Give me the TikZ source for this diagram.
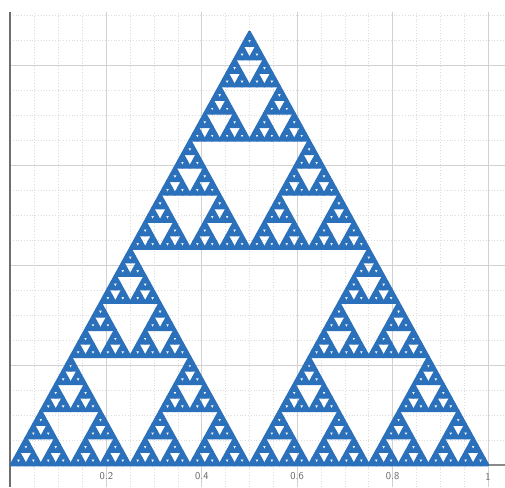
\documentclass[tikz,border=0pt]{standalone}
\definecolor{dblue}{HTML}{2B70BA}
\definecolor{majgrid}{HTML}{D2D2D2}
\definecolor{mingrid}{HTML}{DDDDDD}
\definecolor{axiscol}{HTML}{8A8A8A}
\definecolor{labcol}{HTML}{666666}
\def\sier#1#2#3#4{%
  \ifnum#1=0
    \filldraw[tri] (#2,#3) -- ++(#4,0) -- ++(-#4/2,#4*0.8660254) -- cycle;
  \else
    \sier{\numexpr#1-1\relax}{#2}{#3}{#4/2}%
    \sier{\numexpr#1-1\relax}{#2+#4/2}{#3}{#4/2}%
    \sier{\numexpr#1-1\relax}{#2+#4/4}{#3+#4/2*0.8660254}{#4/2}%
  \fi}
\begin{document}
\begin{tikzpicture}[x=477pt,y=500pt,
  tri/.style={fill=dblue,draw=dblue,line width=2.7pt,line join=round},
  minor/.style={draw=mingrid,line width=0.8pt,dotted},
  major/.style={draw=majgrid,line width=0.9pt},
  ticklab/.style={text=labcol,font=\sffamily\fontsize{10.5}{11}\selectfont,inner sep=0pt}]
\useasboundingbox (-11pt,-22pt) rectangle (494pt,465pt);
\fill[white] (-11pt,-22pt) rectangle (494pt,465pt);
% minor grid
\foreach \i in {1,...,20} \draw[minor] (\i*0.05,-22pt) -- (\i*0.05,0.905);
\foreach \j in {1,...,18} \draw[minor] (-1pt,\j*0.05) -- (494pt,\j*0.05);
% major grid
\foreach \i in {0.2,0.4,0.6,0.8,1.0} \draw[major] (\i,-22pt) -- (\i,0.905);
\foreach \j in {0.2,0.4,0.6,0.8} \draw[major] (-1pt,\j) -- (494pt,\j);
% axes
\coordinate (xa0) at (-1pt,0);
\coordinate (xa1) at (494pt,0);
\coordinate (ya0) at (-1pt,-22pt);
\coordinate (ya1) at (-1pt,0.905);
\draw[axiscol,line width=1.4pt] (xa0) -- (xa1);
\draw[axiscol!80!black,line width=2pt] (ya0) -- (ya1);
% Sierpinski triangle
\sier{6}{0}{0}{1}
% tick labels
\node[ticklab] (l2) at (0.2,-11.5pt) {0.2};
\node[ticklab] (l4) at (0.4,-11.5pt) {0.4};
\node[ticklab] (l6) at (0.6,-11.5pt) {0.6};
\node[ticklab] (l8) at (0.8,-11.5pt) {0.8};
\node[ticklab] (l10) at (1.0,-11.5pt) {1};
\end{tikzpicture}
\end{document}
